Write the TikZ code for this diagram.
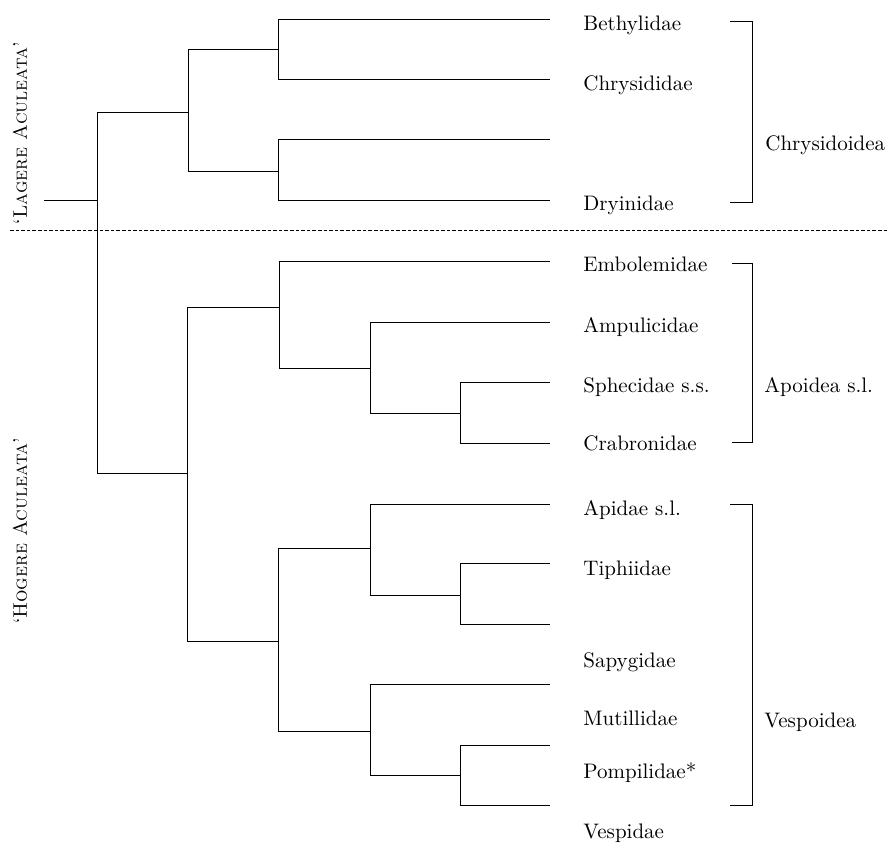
\documentclass[tikz,border=0pt]{standalone}
\usepackage{amsmath}
\usepackage{xcolor}
\usepackage{tikz}

\begin{document}
\begin{tikzpicture}[x=0.5pt,y=-0.5pt,
        branch/.style={line width=0.5pt},
        taxon/.style={anchor=west,inner sep=0pt,text height=7pt,text depth=2pt,font=\fontsize{10.5}{12}\selectfont},
        grade/.style={rotate=90,inner sep=0pt,font=\fontsize{9.8}{12}\selectfont}]
        \useasboundingbox (0,0) rectangle (889,852);
        % inner nodes
        \coordinate (stub) at (44,200);
        \coordinate (root) at (97,200);
        \coordinate (lag) at (188,112);
        \coordinate (chA) at (278,49);
        \coordinate (chB) at (278,171);
        \coordinate (hog) at (187,473);
        \coordinate (apA) at (279,307);
        \coordinate (apB) at (370,368);
        \coordinate (apC) at (460,413);
        \coordinate (veA) at (278,641);
        \coordinate (veB) at (370,548);
        \coordinate (veC) at (460,595);
        \coordinate (veD) at (370,731);
        \coordinate (veE) at (460,775);
        % leaf ends
        \coordinate (t1) at (550,19);
        \coordinate (t2) at (550,79);
        \coordinate (t3) at (550,139);
        \coordinate (t4) at (550,200);
        \coordinate (t5) at (550,261);
        \coordinate (t6) at (550,322);
        \coordinate (t7) at (550,382);
        \coordinate (t8) at (550,443);
        \coordinate (t9) at (550,504);
        \coordinate (t10) at (550,563);
        \coordinate (t11) at (550,624);
        \coordinate (t12) at (550,684);
        \coordinate (t13) at (550,745);
        \coordinate (t14) at (550,805);
        % tree
        \draw[branch] (stub) -- (root);
        \draw[branch] (root) |- (lag);
        \draw[branch] (root) |- (hog);
        \draw[branch] (lag) |- (chA);
        \draw[branch] (lag) |- (chB);
        \draw[branch] (chA) |- (t1);
        \draw[branch] (chA) |- (t2);
        \draw[branch] (chB) |- (t3);
        \draw[branch] (chB) |- (t4);
        \draw[branch] (hog) |- (apA);
        \draw[branch] (hog) |- (veA);
        \draw[branch] (apA) |- (t5);
        \draw[branch] (apA) |- (apB);
        \draw[branch] (apB) |- (t6);
        \draw[branch] (apB) |- (apC);
        \draw[branch] (apC) |- (t7);
        \draw[branch] (apC) |- (t8);
        \draw[branch] (veA) |- (veB);
        \draw[branch] (veA) |- (veD);
        \draw[branch] (veB) |- (t9);
        \draw[branch] (veB) |- (veC);
        \draw[branch] (veC) |- (t10);
        \draw[branch] (veC) |- (t11);
        \draw[branch] (veD) |- (t12);
        \draw[branch] (veD) |- (veE);
        \draw[branch] (veE) |- (t13);
        \draw[branch] (veE) |- (t14);
        % split
        \coordinate (splitL) at (10,230);
        \coordinate (splitR) at (889,230);
        \draw[line width=0.5pt,dash pattern=on 1.8pt off 1pt] (splitL) -- (splitR);
        % names
        \node[taxon] (bethyl) at (583,25) {Bethylidae};
        \node[taxon] (chrysid) at (583,85) {Chrysididae};
        \node[taxon] (dryin) at (583,205) {Dryinidae};
        \node[taxon] (embol) at (583,266) {Embolemidae};
        \node[taxon] (ampul) at (583,327) {Ampulicidae};
        \node[taxon] (sphec) at (583,387) {Sphecidae s.s.};
        \node[taxon] (crabr) at (583,445) {Crabronidae};
        \node[taxon] (apid) at (583,510) {Apidae s.l.};
        \node[taxon] (tiph) at (583,570) {Tiphiidae};
        \node[taxon] (sapyg) at (583,662) {Sapygidae};
        \node[taxon] (mutil) at (583,720) {Mutillidae};
        \node[taxon] (pompil) at (583,773) {Pompilidae*};
        \node[taxon] (vespid) at (583,833) {Vespidae};
        % superfamilies
        \coordinate (chrT) at (730,21);
        \coordinate (chrB) at (730,202);
        \coordinate (apoT) at (732,263);
        \coordinate (apoB) at (732,442);
        \coordinate (vesT) at (730,504);
        \coordinate (vesB) at (730,805);
        \draw[branch] (chrT) -- ++(22,0) |- (chrB);
        \draw[branch] (apoT) -- ++(20,0) |- (apoB);
        \draw[branch] (vesT) -- ++(22,0) |- (vesB);
        \node[taxon] (chrysoid) at (765,145) {Chrysidoidea};
        \node[taxon] (apoid) at (764,387) {Apoidea s.l.};
        \node[taxon] (vespoid) at (764,722) {Vespoidea};
        % grades
        \node[grade] (lagere) at (20,133) {`\textsc{Lagere Aculeata}'};
        \node[grade] (hogere) at (20,531) {`\textsc{Hogere Aculeata}'};
    \end{tikzpicture}
\end{document}
